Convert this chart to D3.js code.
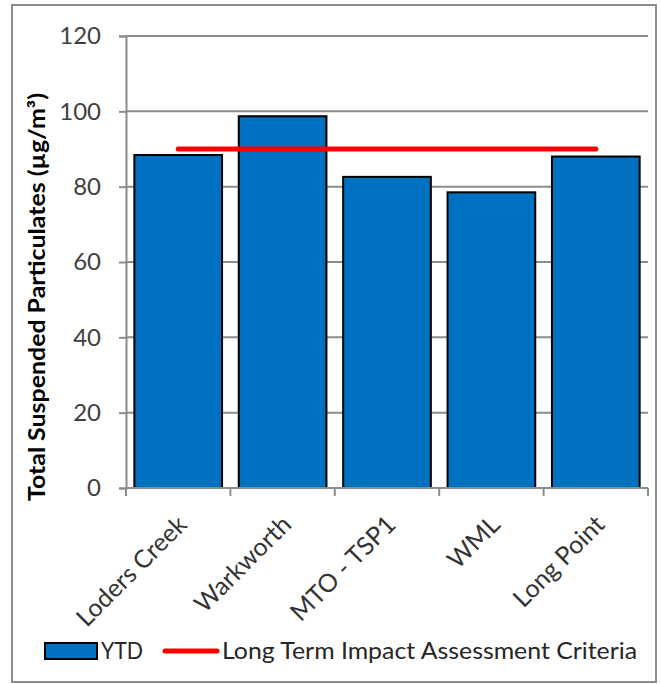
<!DOCTYPE html>
<html>
<head>
<meta charset="utf-8">
<script src="https://cdn.jsdelivr.net/npm/d3@7"></script>
<style>
  html, body { margin: 0; padding: 0; background: #fff; }
  svg { display: block; font-family: Lato, "Open Sans", sans-serif; }
</style>
</head>
<body>
<svg id="chart" width="661" height="684"></svg>
<script>
// Monitoring sites and year-to-date TSP averages (µg/m³)
const sites = ["Loders Creek", "Warkworth", "MTO - TSP1", "WML", "Long Point"];
const ytdValues = [88.4, 98.7, 82.6, 78.5, 88.0];
// Long term impact assessment criterion (µg/m³)
const criteria = [90, 90, 90, 90, 90];
const yTicks = [0, 20, 40, 60, 80, 100, 120];
const legendLabels = ["YTD", "Long Term Impact Assessment Criteria"];

const svg = d3.select("#chart");
const plot = { left: 126, right: 648, top: 36, bottom: 488 };

// chart area frame
svg.append("rect")
  .attr("x", 12).attr("y", 5).attr("width", 644).attr("height", 677)
  .attr("fill", "#fff").attr("stroke", "#8c8c8c").attr("stroke-width", 2);

const x = d3.scaleBand().domain(sites)
  .range([plot.left, plot.right]).paddingInner(0.16).paddingOuter(0.08);
const y = d3.scaleLinear().domain([0, 120]).range([plot.bottom, plot.top]);

// horizontal gridlines
svg.append("g").selectAll("line").data(yTicks.filter(d => d > 0)).join("line")
  .attr("x1", plot.left).attr("x2", plot.right)
  .attr("y1", d => y(d)).attr("y2", d => y(d))
  .attr("stroke", "#8c8c8c").attr("stroke-width", 2);

// y axis
const yAxis = svg.append("g").attr("transform", `translate(${plot.left},0)`)
  .call(d3.axisLeft(y).tickValues(yTicks).tickSize(7).tickPadding(18));
yAxis.select(".domain").attr("stroke", "#8c8c8c").attr("stroke-width", 2);
yAxis.selectAll(".tick line").attr("stroke", "#8c8c8c").attr("stroke-width", 2);
yAxis.selectAll(".tick text").attr("font-size", 24).attr("fill", "#404040")
  .attr("font-family", "Lato, sans-serif");

// bars
svg.append("g").selectAll("rect").data(sites).join("rect")
  .attr("x", d => x(d)).attr("width", x.bandwidth())
  .attr("y", (d, i) => y(ytdValues[i]))
  .attr("height", (d, i) => y(0) - y(ytdValues[i]))
  .attr("fill", "#0070c0").attr("stroke", "#000").attr("stroke-width", 2);

// x axis with ticks at category boundaries
const xAxisG = svg.append("g").attr("transform", `translate(0,${plot.bottom})`);
xAxisG.append("line").attr("x1", plot.left).attr("x2", plot.right)
  .attr("stroke", "#8c8c8c").attr("stroke-width", 2);
const boundaries = sites.map(s => x(s) - x.step() * x.paddingInner() / 2)
  .concat([plot.right]);
boundaries[0] = plot.left;
xAxisG.selectAll(".bt").data(boundaries).join("line")
  .attr("x1", d => d).attr("x2", d => d).attr("y1", 0).attr("y2", 8)
  .attr("stroke", "#8c8c8c").attr("stroke-width", 2);
xAxisG.selectAll("text").data(sites).join("text")
  .attr("transform", d => `translate(${x(d) + x.bandwidth() / 2 + 4},${32}) rotate(-45)`)
  .attr("text-anchor", "end").attr("dy", "0.35em")
  .attr("font-size", 25).attr("fill", "#333")
  .text(d => d);

// criteria line through category centres
const line = d3.line().x(d => x(d) + x.bandwidth() / 2).y((d, i) => y(criteria[i]));
svg.append("path").datum(sites).attr("d", line)
  .attr("fill", "none").attr("stroke", "#ff0000").attr("stroke-width", 5)
  .attr("stroke-linecap", "round");

// y axis title
svg.append("text")
  .attr("transform", "translate(45,297) rotate(-90)")
  .attr("text-anchor", "middle").attr("font-weight", "bold")
  .attr("font-size", 22).attr("fill", "#000")
  .attr("textLength", 408).attr("lengthAdjust", "spacingAndGlyphs")
  .text("Total Suspended Particulates (µg/m³)");

// legend
const lg = svg.append("g");
lg.append("rect").attr("x", 45).attr("y", 643).attr("width", 52).attr("height", 16)
  .attr("fill", "#0070c0").attr("stroke", "#000").attr("stroke-width", 2);
lg.append("text").attr("x", 101).attr("y", 659).attr("font-size", 23).attr("fill", "#262626")
  .attr("textLength", 42).attr("lengthAdjust", "spacingAndGlyphs")
  .text(legendLabels[0]);
lg.append("line").attr("x1", 165).attr("x2", 217).attr("y1", 651).attr("y2", 651)
  .attr("stroke", "#ff0000").attr("stroke-width", 5).attr("stroke-linecap", "round");
lg.append("text").attr("x", 222).attr("y", 659).attr("font-size", 23).attr("fill", "#262626")
  .attr("textLength", 415).attr("lengthAdjust", "spacingAndGlyphs")
  .text(legendLabels[1]);
</script>
</body>
</html>
